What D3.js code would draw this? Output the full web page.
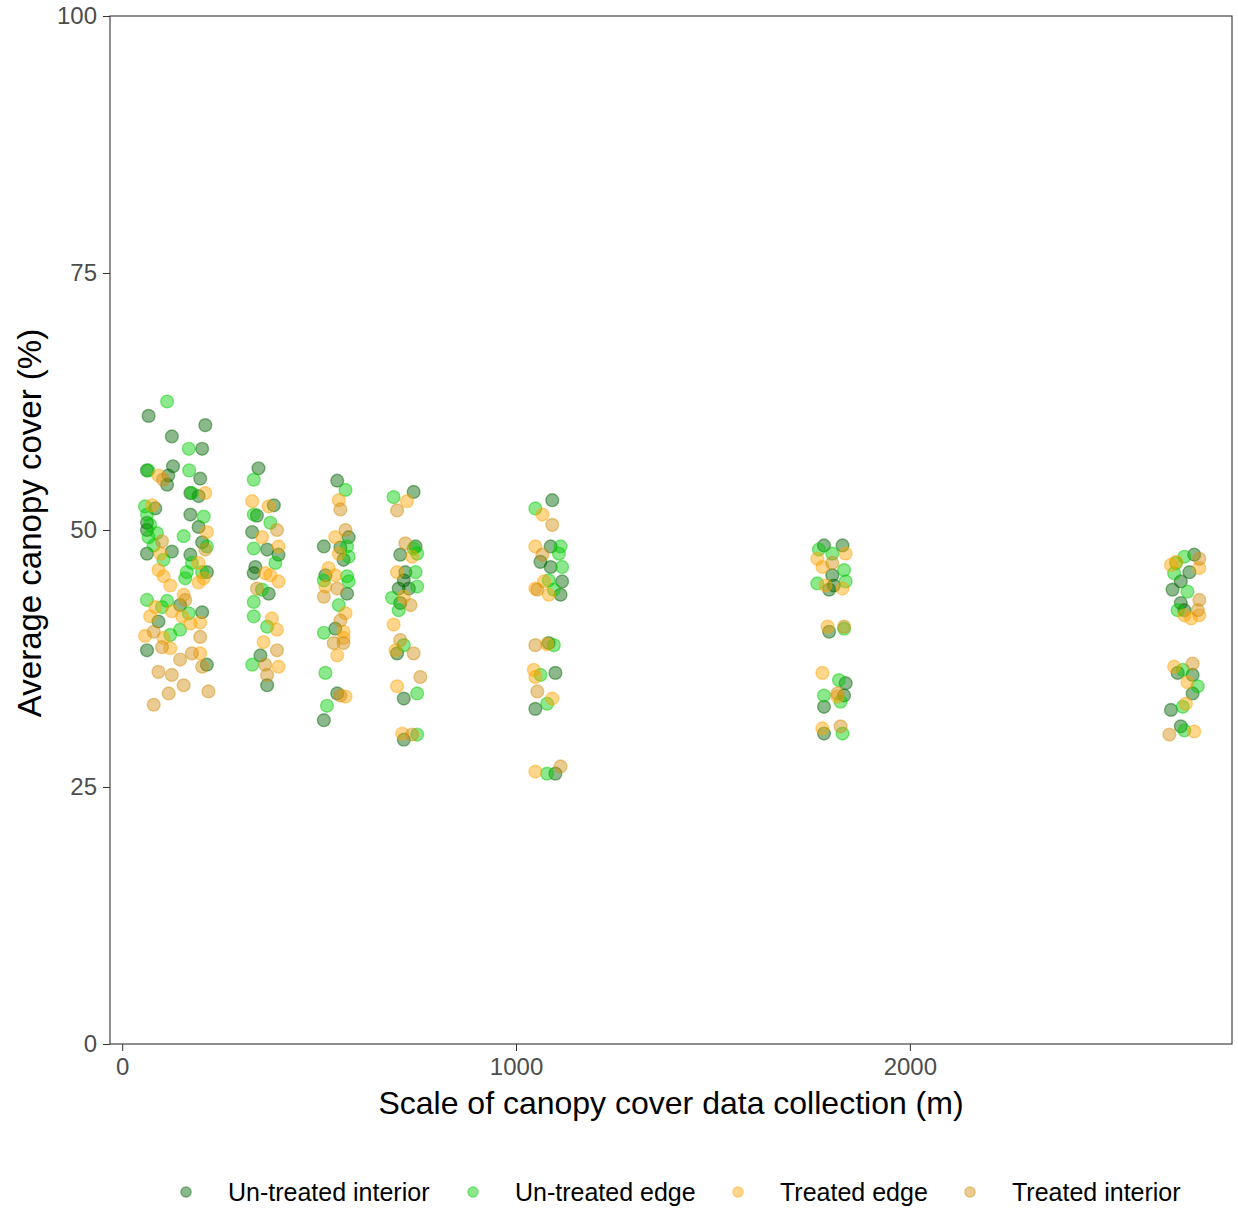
<!DOCTYPE html>
<html lang="en">
<head>
<meta charset="UTF-8">
<title>Canopy cover</title>
<script src="https://cdn.jsdelivr.net/npm/d3@7"></script>
<style>
    body { margin: 0; background: white; }
    text { font-family: "Liberation Sans", Arial, sans-serif; }
    .tick text { fill: #4d4d4d; font-size: 24px; }
    .tick line { stroke: #333; }
    .domain { display: none; }
</style>
</head>
<body>
<div id="chart"></div>
<script>
    // ----- data (jittered positions) -----
    const seriesNames = ["Un-treated interior", "Un-treated edge", "Treated edge", "Treated interior"];
    const seriesColors = ["#006400", "#00cd00", "#ffa500", "#d18e10"];

    const untreatedInterior = [
        [67,61.1],[211,60.2],[126,59.1],[203,57.9],[63,55.8],[129,56.2],[117,55.3],[114,54.4],[198,55.0],[194,53.3],
        [173,53.6],[84,52.1],[63,50.7],[63,50.0],[173,51.5],[194,50.3],[203,48.8],[63,47.7],[126,47.9],[173,47.6],
        [215,45.9],[147,42.7],[203,42.0],[92,41.1],[63,38.3],[215,36.9],
        [346,56.0],[342,51.4],[330,49.8],[368,48.1],[397,47.6],[338,46.4],[334,45.8],[372,43.8],[351,37.8],[368,34.9],[385,52.4],
        [546,54.8],[575,49.3],[512,48.4],[554,48.3],[562,47.1],[516,45.6],[571,43.8],[541,40.4],[546,34.1],[512,31.5],
        [740,53.7],[745,48.4],[706,47.6],[719,45.9],[715,45.1],[728,44.3],[702,44.3],[706,42.9],[698,38.0],[715,33.6],[715,29.6],
        [1092,52.9],[1088,48.4],[1062,46.9],[1088,46.4],[1117,45.0],[1113,43.7],[1083,39.0],[1100,36.1],[1049,32.6],[1100,26.3],
        [1782,48.5],[1829,48.5],[1803,45.6],[1807,44.6],[1795,44.2],[1795,40.1],[1837,35.1],[1833,33.9],[1782,32.8],[1782,30.2],
        [2722,47.6],[2710,45.9],[2688,45.0],[2667,44.2],[2688,42.9],[2697,42.2],[2680,36.1],[2718,35.9],[2718,34.1],[2663,32.5],[2688,30.9]
    ];
    const untreatedEdge = [
        [114,62.5],[169,57.9],[66,55.8],[170,55.8],[177,53.6],[58,52.3],[63,51.5],[71,50.5],[88,49.7],[67,49.3],
        [80,48.5],[207,51.3],[156,49.4],[215,48.4],[105,47.1],[177,46.8],[164,45.9],[203,45.9],[160,45.3],[63,43.2],
        [114,43.1],[101,42.5],[169,41.9],[147,40.3],[122,39.8],
        [334,54.9],[334,51.5],[376,50.7],[334,48.2],[389,46.8],[355,44.2],[334,43.0],[334,41.6],[368,40.6],[330,36.9],
        [567,53.9],[571,48.4],[575,47.4],[512,45.1],[571,45.5],[575,45.0],[550,42.7],[512,40.0],[516,36.1],[520,32.9],
        [689,53.2],[740,48.2],[749,47.7],[745,45.9],[749,44.5],[685,43.4],[702,42.2],[715,38.8],[749,34.1],[749,30.1],
        [1049,52.1],[1113,48.4],[1109,47.7],[1117,46.4],[1083,45.1],[1096,44.2],[1096,38.8],[1062,35.9],[1079,33.1],[1079,26.3],
        [1769,48.1],[1803,47.7],[1833,46.1],[1765,44.8],[1837,45.0],[1833,40.4],[1820,35.4],[1782,33.9],[1824,33.3],[1829,30.2],
        [2697,47.4],[2676,46.8],[2671,45.8],[2705,44.0],[2680,42.2],[2693,36.4],[2731,34.8],[2693,32.8],[2697,30.5]
    ];
    const treatedEdge = [
        [92,55.3],[211,53.6],[76,52.4],[215,49.8],[97,47.7],[194,46.8],[92,46.1],[105,45.5],[207,45.3],[194,44.9],
        [122,44.6],[156,43.7],[84,42.5],[126,42.1],[71,41.6],[152,41.6],[173,40.9],[198,41.0],[58,39.7],[105,39.5],
        [122,38.5],[198,38.0],
        [330,52.8],[372,52.3],[355,49.3],[397,48.4],[363,45.8],[376,45.6],[397,45.0],[380,41.4],[393,40.3],[359,39.1],[397,36.7],
        [550,52.9],[541,49.3],[550,47.7],[524,46.3],[541,45.6],[516,44.5],[567,41.9],[562,40.1],[562,39.5],[546,37.8],[567,33.8],
        [723,52.8],[736,47.4],[698,45.9],[715,43.5],[689,40.8],[694,38.3],[698,34.8],[711,30.2],
        [1067,51.5],[1049,48.4],[1049,44.3],[1071,45.0],[1083,43.7],[1079,38.9],[1045,36.4],[1049,35.7],[1092,33.6],[1049,26.5],
        [1837,47.7],[1765,47.2],[1778,46.4],[1786,44.6],[1829,44.3],[1791,40.6],[1778,36.1],[1816,33.8],[1778,30.7],
        [2676,46.9],[2663,46.6],[2735,46.3],[2697,41.7],[2735,41.7],[2714,41.4],[2671,36.7],[2705,35.2],[2701,33.1],[2722,30.4]
    ];
    const treatedInterior = [
        [104,54.9],[101,48.9],[211,48.1],[160,43.2],[80,40.1],[198,39.6],[101,38.6],[147,37.4],[177,38.0],[203,36.7],
        [92,36.2],[126,35.9],[156,34.9],[118,34.1],[219,34.3],[80,33.0],
        [393,50.0],[342,44.3],[393,38.3],[363,36.9],[368,35.9],
        [554,52.0],[567,50.0],[512,43.5],[546,44.3],[554,41.2],[537,39.0],[562,39.0],[554,33.9],
        [698,51.9],[719,48.7],[732,42.7],[706,39.3],[740,38.0],[757,35.7],[736,30.1],
        [1092,50.5],[1067,47.6],[1054,44.2],[1049,38.8],[1054,34.3],[1113,27.0],
        [1803,46.8],[1833,40.6],[1824,30.9],[1816,34.1],
        [2735,47.2],[2735,43.2],[2731,42.2],[2718,37.0],[2659,30.1]
    ];
    const allSeries = [untreatedInterior, untreatedEdge, treatedEdge, treatedInterior];

    const xTicks = [0, 1000, 2000];
    const yTicks = [0, 25, 50, 75, 100];

    // ----- layout -----
    const width = 1238, height = 1210;
    const margin = { top: 16, right: 6, bottom: 166, left: 110 };
    const innerW = width - margin.left - margin.right;
    const innerH = height - margin.top - margin.bottom;

    const svg = d3.select("#chart").append("svg")
        .attr("width", width)
        .attr("height", height);

    const g = svg.append("g").attr("transform", `translate(${margin.left},${margin.top})`);

    const x = d3.scaleLinear().domain([-31, 2818]).range([0, innerW]);
    const y = d3.scaleLinear().domain([0, 100]).range([innerH, 0]);

    // points
    allSeries.forEach((pts, i) => {
        g.append("g").selectAll("circle")
            .data(pts)
            .enter()
            .append("circle")
            .attr("cx", d => x(d[0]))
            .attr("cy", d => y(d[1]))
            .attr("r", 6.4)
            .attr("fill", seriesColors[i])
            .attr("fill-opacity", 0.45)
            .attr("stroke", seriesColors[i])
            .attr("stroke-opacity", 0.45)
            .attr("stroke-width", 1.4);
    });

    // panel border
    g.append("rect")
        .attr("width", innerW)
        .attr("height", innerH)
        .attr("fill", "none")
        .attr("stroke", "#333")
        .attr("stroke-width", 1.1);

    // axes
    g.append("g")
        .attr("transform", `translate(0,${innerH})`)
        .call(d3.axisBottom(x).tickValues(xTicks).tickSize(7).tickPadding(7).tickFormat(d3.format("d")));

    g.append("g")
        .call(d3.axisLeft(y).tickValues(yTicks).tickSize(7).tickPadding(6));

    // axis titles
    svg.append("text")
        .attr("x", margin.left + innerW / 2)
        .attr("y", 1114)
        .attr("text-anchor", "middle")
        .attr("font-size", 32)
        .attr("fill", "black")
        .text("Scale of canopy cover data collection (m)");

    svg.append("text")
        .attr("transform", `translate(41,523) rotate(-90)`)
        .attr("text-anchor", "middle")
        .attr("font-size", 33)
        .attr("fill", "black")
        .text("Average canopy cover (%)");

    // legend
    const legendX = [186, 473, 738, 970];
    const legend = svg.append("g");
    seriesNames.forEach((name, i) => {
        legend.append("circle")
            .attr("cx", legendX[i])
            .attr("cy", 1192)
            .attr("r", 5.2)
            .attr("fill", seriesColors[i])
            .attr("fill-opacity", 0.45)
            .attr("stroke", seriesColors[i])
            .attr("stroke-opacity", 0.45)
            .attr("stroke-width", 1.2);
        legend.append("text")
            .attr("x", legendX[i] + 42)
            .attr("y", 1201)
            .attr("font-size", 25)
            .attr("fill", "black")
            .text(name);
    });
</script>
</body>
</html>
